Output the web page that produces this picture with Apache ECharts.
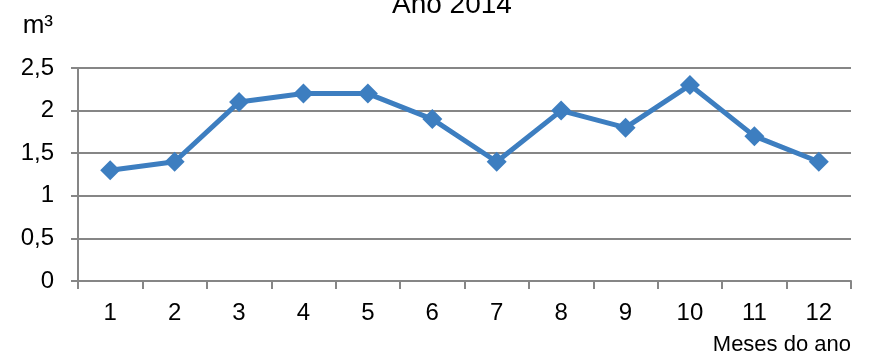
<!DOCTYPE html>
<html>
<head>
<meta charset="utf-8">
<script src="https://cdn.jsdelivr.net/npm/echarts@6/dist/echarts.min.js"></script>
<style>
  html, body { margin: 0; padding: 0; background: #fff; }
  #chart { width: 879px; height: 357px; }
</style>
</head>
<body>
<div id="chart"></div>
<script>
// volume consumido por mês (m³), ano 2014
const months = ['1', '2', '3', '4', '5', '6', '7', '8', '9', '10', '11', '12'];
const volumes = [1.3, 1.4, 2.1, 2.2, 2.2, 1.9, 1.4, 2.0, 1.8, 2.3, 1.7, 1.4];

const font = '"Liberation Sans", Arial, sans-serif';
const axisGray = '#868686';

const chart = echarts.init(document.getElementById('chart'), null, { renderer: 'canvas' });
chart.setOption({
  animation: false,
  title: {
    text: 'Ano 2014',
    left: 392,
    top: -9,
    padding: 0,
    textStyle: { fontFamily: font, fontSize: 28, fontWeight: 'normal', color: '#000' }
  },
  grid: { left: 78, right: 28, top: 68, bottom: 76 },
  xAxis: {
    type: 'category',
    data: months,
    boundaryGap: true,
    name: 'Meses do ano',
    nameLocation: 'end',
    nameGap: 0,
    nameTextStyle: {
      fontFamily: font, fontSize: 22, color: '#000',
      align: 'right', verticalAlign: 'top', padding: [53, 0, 0, 0]
    },
    axisLine: { lineStyle: { color: axisGray, width: 2 } },
    axisTick: { show: true, length: 8, alignWithLabel: false, lineStyle: { color: axisGray, width: 2 } },
    axisLabel: { fontFamily: font, fontSize: 24, color: '#000', margin: 20 },
    splitLine: { show: false }
  },
  yAxis: {
    type: 'value',
    min: 0,
    max: 2.5,
    interval: 0.5,
    name: 'm³',
    nameLocation: 'end',
    nameGap: 42,
    nameTextStyle: {
      fontFamily: font, fontSize: 26, color: '#000',
      align: 'right', verticalAlign: 'middle', padding: [0, 25, 0, 0]
    },
    axisLine: { show: true, lineStyle: { color: axisGray, width: 2 } },
    axisTick: { show: true, length: 7, lineStyle: { color: axisGray, width: 2 } },
    axisLabel: {
      fontFamily: font, fontSize: 24, color: '#000', margin: 24,
      formatter: v => String(v).replace('.', ',')
    },
    splitLine: { lineStyle: { color: axisGray, width: 2 } }
  },
  series: [{
    type: 'line',
    data: volumes,
    symbol: 'diamond',
    symbolSize: 20,
    lineStyle: { color: '#3D7EC0', width: 5 },
    itemStyle: { color: '#3D7EC0' }
  }]
});
</script>
</body>
</html>
